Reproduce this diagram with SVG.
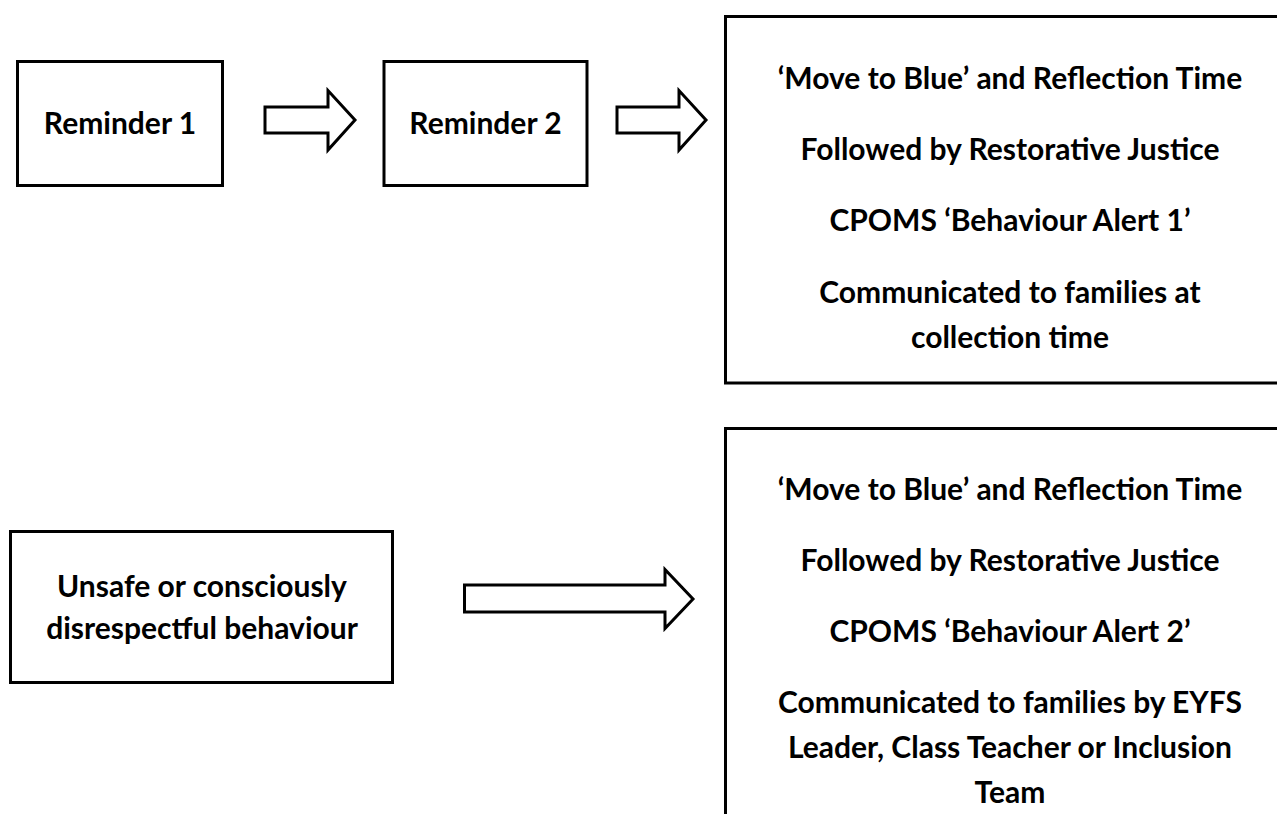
<svg xmlns="http://www.w3.org/2000/svg" width="1277" height="814" viewBox="0 0 1277 814">
<style>
.box{fill:#fff;stroke:#000;stroke-width:3}
.arr{fill:#fff;stroke:#000;stroke-width:3;stroke-linejoin:miter}
text{font-family:Lato,"Open Sans","Liberation Sans",sans-serif;font-weight:bold;font-size:30px;fill:#000;text-anchor:middle}
</style>
<rect width="1277" height="814" fill="#fff"/>
<g id="connectors">
<polygon class="arr" points="265,107 328,107 328,90.5 355,120 328,150 328,133 265,133"/>
<polygon class="arr" points="617,107 679,107 679,90.5 706,120 679,150 679,133 617,133"/>
<polygon class="arr" points="464.5,585 665,585 665,569.5 693,599 665,628.5 665,612 464.5,612"/>
</g>
<g id="reminder1">
<rect class="box" x="17.5" y="61.5" width="205" height="124"/>
<text x="120" y="134">Reminder 1</text>
</g>
<g id="reminder2">
<rect class="box" x="384" y="61.5" width="203" height="124"/>
<text x="485.5" y="134">Reminder 2</text>
</g>
<g id="alert1">
<rect class="box" x="725.5" y="16.5" width="600" height="366.5"/>
<text x="1010" y="89">‘Move to Blue’ and Reflection Time</text>
<text x="1010" y="160">Followed by Restorative Justice</text>
<text x="1010" y="231">CPOMS ‘Behaviour Alert 1’</text>
<text x="1010" y="303">Communicated to families at</text>
<text x="1010" y="348">collection time</text>
</g>
<g id="unsafe">
<rect class="box" x="10.5" y="531.5" width="382" height="151"/>
<text x="202" y="597">Unsafe or consciously</text>
<text x="202" y="639">disrespectful behaviour</text>
</g>
<g id="alert2">
<rect class="box" x="725.5" y="428.5" width="600" height="420"/>
<text x="1010" y="500">‘Move to Blue’ and Reflection Time</text>
<text x="1010" y="571">Followed by Restorative Justice</text>
<text x="1010" y="642">CPOMS ‘Behaviour Alert 2’</text>
<text x="1010" y="713">Communicated to families by EYFS</text>
<text x="1010" y="758">Leader, Class Teacher or Inclusion</text>
<text x="1010" y="803">Team</text>
</g>
</svg>
